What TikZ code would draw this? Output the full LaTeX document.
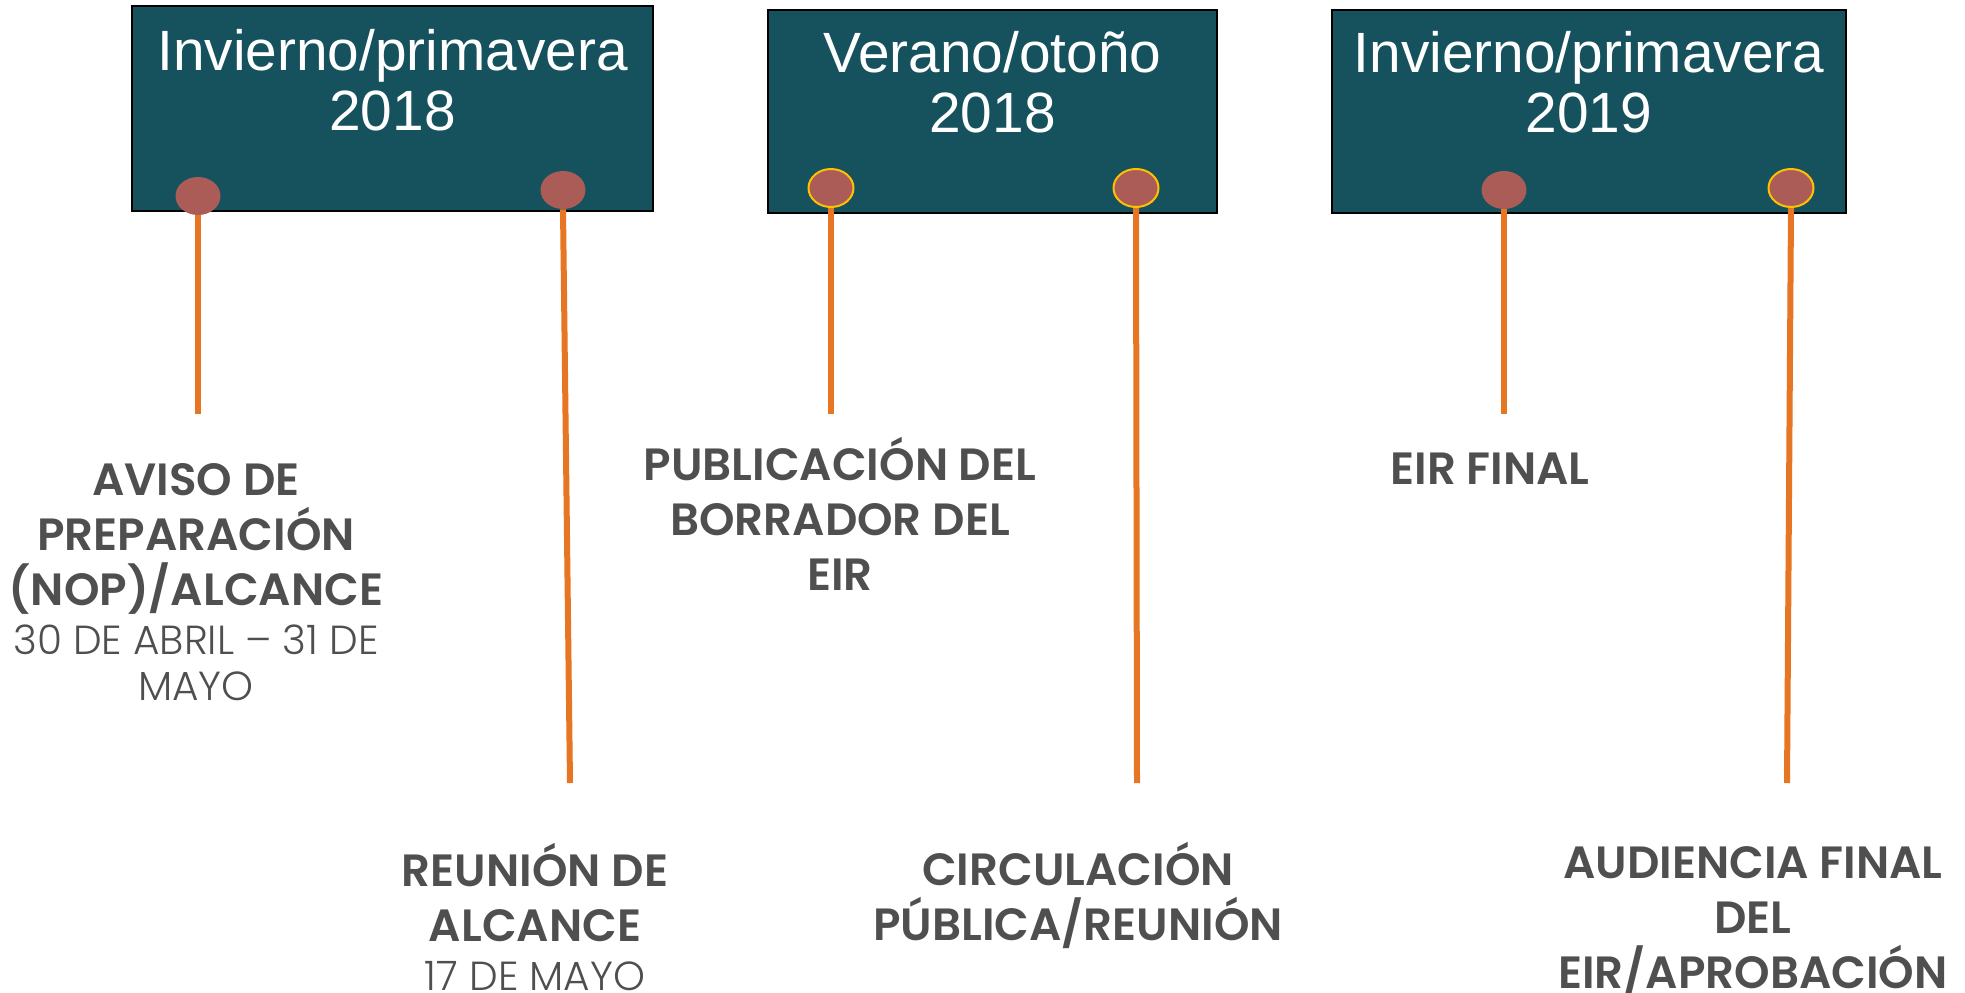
\documentclass[tikz,border=0pt]{standalone}
\usepackage{fontspec}
\setmainfont{Poppins}
\newfontfamily\boxfont{Liberation Sans}
\newfontfamily\semifont{Poppins SemiBold}
\newfontfamily\lightfont{Poppins Light}
\usetikzlibrary{shapes.geometric}
\definecolor{boxteal}{HTML}{15525E}
\definecolor{dotred}{HTML}{AC5C56}
\definecolor{stemorange}{HTML}{E67623}
\definecolor{ringyellow}{HTML}{FFC000}
\definecolor{labelgray}{HTML}{4F4F4F}
\tikzset{
  period/.style={draw=black, line width=1pt, fill=boxteal, inner sep=0pt},
  periodtext/.style={text=white, font=\boxfont\fontsize{28.4}{30}\selectfont, align=center, anchor=base, inner sep=0pt},
  milestone/.style={ellipse, fill=dotred, minimum width=22.5pt, minimum height=19pt, inner sep=0pt},
  ringed/.style={milestone, draw=ringyellow, line width=1pt},
  stem/.style={draw=stemorange, line width=3pt},
  title/.style={text=labelgray, font=\semifont\fontsize{22.6}{27.5}\selectfont, align=center, anchor=base, inner sep=0pt},
  datetext/.style={text=labelgray, font=\lightfont\fontsize{20.3}{23}\selectfont, align=center, anchor=base, inner sep=0pt},
}
\begin{document}
\begin{tikzpicture}[x=0.5pt, y=-0.5pt]
\useasboundingbox[fill=white] (0,0) rectangle (1965,992);
% period boxes
\node[period, minimum width=260.5pt, minimum height=102.5pt] (b1) at (392.5,108.5) {};
\node[period, minimum width=224.5pt, minimum height=101.5pt] (b2) at (992.5,111.5) {};
\node[period, minimum width=257pt, minimum height=101.5pt] (b3) at (1589,111.5) {};
\node[periodtext] (t1) at (392.5,130) {Invierno/primavera\\2018};
\node[periodtext] (t2) at (992.5,132) {Verano/otoño\\2018};
\node[periodtext] (t3) at (1589,132) {Invierno/primavera\\2019};
% milestones
\node[milestone] (d1) at (198,196) {};
\node[milestone] (d2) at (563,190) {};
\node[ringed] (d3) at (831,188) {};
\node[ringed] (d4) at (1136,188) {};
\node[milestone] (d5) at (1504,190) {};
\node[ringed] (d6) at (1791,188) {};
% stem ends
\coordinate (e1) at (198,414);
\coordinate (e2) at (570,783);
\coordinate (e3) at (831,414);
\coordinate (e4) at (1137,783);
\coordinate (e5) at (1504,414);
\coordinate (e6) at (1787,783);
\draw[stem] (d1.south) -- (e1);
\draw[stem] (d2.south) -- (e2);
\draw[stem] (d3.south) -- (e3);
\draw[stem] (d4.south) -- (e4);
\draw[stem] (d5.south) -- (e5);
\draw[stem] (d6.south) -- (e6);
% labels (anchor = baseline of last line)
\node[title] (l1) at (196,605) {AVISO DE\\PREPARACIÓN\\(NOP)/ALCANCE};
\node[datetext] (l1d) at (196,700) {30 DE ABRIL – 31 DE\\MAYO};
\node[title] (l2) at (535,941) {REUNIÓN DE\\ALCANCE};
\node[datetext] (l2d) at (535,990) {17 DE MAYO};
\node[title] (l3) at (840,590) {PUBLICACIÓN DEL\\BORRADOR DEL\\EIR};
\node[title] (l4) at (1078,940) {CIRCULACIÓN\\PÚBLICA/REUNIÓN};
\node[title] (l5) at (1490,484) {EIR FINAL};
\node[title] (l6) at (1753,988) {AUDIENCIA FINAL\\DEL\\EIR/APROBACIÓN};
\end{tikzpicture}
\end{document}
